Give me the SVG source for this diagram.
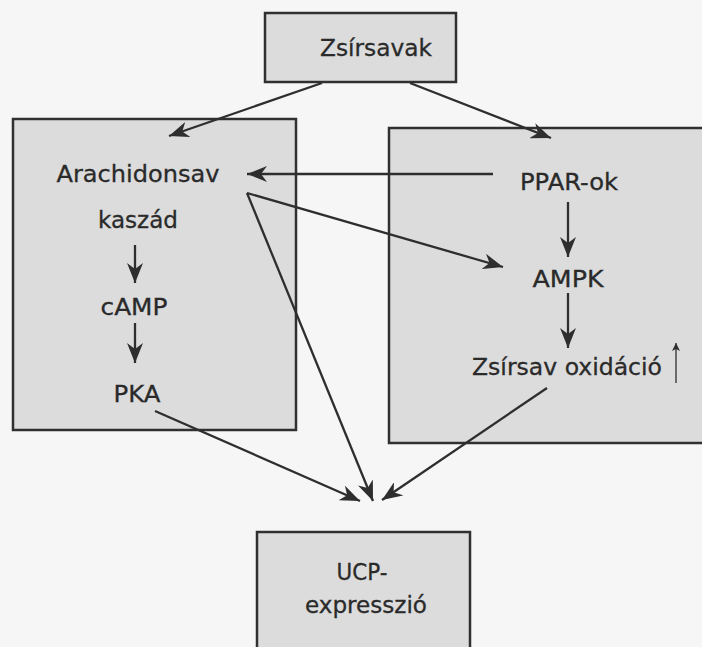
<svg xmlns="http://www.w3.org/2000/svg" width="702" height="647" viewBox="0 0 702 647">
<defs>
<style>
.box{fill:#dcdcdc;stroke:#303030;stroke-width:2.5}
.t{font-family:"DejaVu Sans","Liberation Sans",sans-serif;font-size:23px;fill:#2a2a2a;text-anchor:middle;stroke:#2a2a2a;stroke-width:0.3}
.c{fill:none;stroke:#2e2e2e;stroke-width:2.3}
.thin{fill:none;stroke:#2e2e2e;stroke-width:1.3}
</style>
<marker id="ah" markerUnits="userSpaceOnUse" markerWidth="22" markerHeight="16" refX="20" refY="8" orient="auto">
<path d="M0,0 L20,8 L0,16 L6,8 z" fill="#2e2e2e"/>
</marker>
<marker id="ahs" markerUnits="userSpaceOnUse" markerWidth="8" markerHeight="8" refX="8" refY="4" orient="auto">
<path d="M0,0 L8,4 L0,8 L2,4 z" fill="#2e2e2e"/>
</marker>
</defs>
<rect width="702" height="647" fill="#f6f6f6"/>
<g id="zsirsavak">
<rect class="box" x="265" y="13" width="191" height="69"/>
<text class="t" x="376" y="56" textLength="112" lengthAdjust="spacingAndGlyphs">Zsírsavak</text>
</g>
<g id="left">
<rect class="box" x="13" y="119" width="283" height="311"/>
<text class="t" x="138" y="182" textLength="163" lengthAdjust="spacingAndGlyphs">Arachidonsav</text>
<text class="t" x="138" y="228" textLength="80" lengthAdjust="spacingAndGlyphs">kaszád</text>
<text class="t" x="134" y="315" textLength="67" lengthAdjust="spacingAndGlyphs">cAMP</text>
<text class="t" x="137" y="402" textLength="47" lengthAdjust="spacingAndGlyphs">PKA</text>
</g>
<g id="right">
<rect class="box" x="389" y="128" width="330" height="315"/>
<text class="t" x="569" y="190" textLength="98" lengthAdjust="spacingAndGlyphs">PPAR-ok</text>
<text class="t" x="568" y="287" textLength="71" lengthAdjust="spacingAndGlyphs">AMPK</text>
<text class="t" x="567" y="375" textLength="190" lengthAdjust="spacingAndGlyphs">Zsírsav oxidáció</text>
</g>
<g id="ucp">
<rect class="box" x="257" y="532" width="213" height="130"/>
<text class="t" x="362" y="580" textLength="51" lengthAdjust="spacingAndGlyphs">UCP-</text>
<text class="t" x="366" y="613" textLength="122" lengthAdjust="spacingAndGlyphs">expresszió</text>
</g>
<g id="connectors">
<line class="c" x1="322" y1="83" x2="169" y2="136" marker-end="url(#ah)"/>
<line class="c" x1="410" y1="83" x2="551" y2="138" marker-end="url(#ah)"/>
<line class="c" x1="493" y1="174" x2="247" y2="174" marker-end="url(#ah)"/>
<line class="c" x1="247" y1="193" x2="503" y2="267" marker-end="url(#ah)"/>
<line class="c" x1="247" y1="193" x2="373" y2="501" marker-end="url(#ah)"/>
<line class="c" x1="155" y1="411" x2="360" y2="501" marker-end="url(#ah)"/>
<line class="c" x1="547" y1="388" x2="382" y2="500" marker-end="url(#ah)"/>
<line class="c" x1="135" y1="245" x2="135" y2="283" marker-end="url(#ah)"/>
<line class="c" x1="135" y1="323" x2="135" y2="363" marker-end="url(#ah)"/>
<line class="c" x1="568" y1="202" x2="568" y2="257" marker-end="url(#ah)"/>
<line class="c" x1="568" y1="293" x2="568" y2="348" marker-end="url(#ah)"/>
<line class="thin" x1="676" y1="383" x2="676" y2="343" marker-end="url(#ahs)"/>
</g>
</svg>
